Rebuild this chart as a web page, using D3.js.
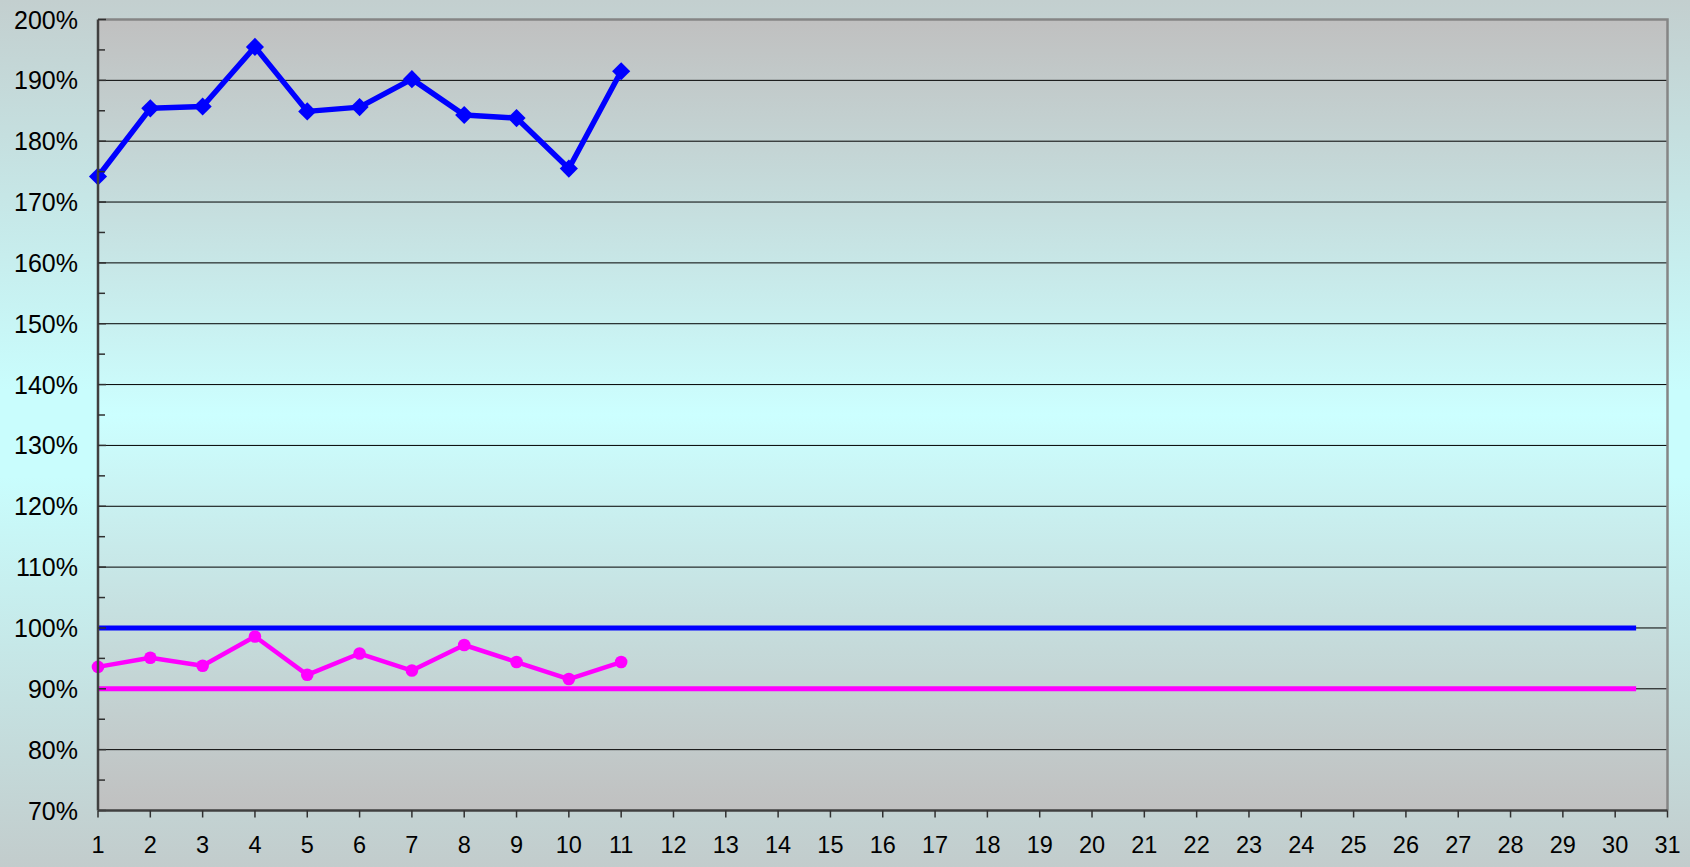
<!DOCTYPE html>
<html>
<head>
<meta charset="utf-8">
<script src="https://d3js.org/d3.v7.min.js"></script>
<style>
  body { margin: 0; padding: 0; overflow: hidden; }
  text { font-family: "Liberation Sans", Arial, sans-serif; fill: #000; }
</style>
</head>
<body>
<div id="chart"></div>
<script>
// chart values
var days = d3.range(1, 32);            // x categories 1..31
var rateDays = d3.range(1, 12);        // days that have data
var blueRate = [174.2, 185.4, 185.7, 195.5, 184.9, 185.6, 190.2, 184.3, 183.8, 175.5, 191.5];
var pinkRate = [93.6, 95.1, 93.8, 98.6, 92.3, 95.8, 93.0, 97.2, 94.4, 91.6, 94.4];
var blueTarget = 100;
var pinkTarget = 90;
var targetSpan = [1, 30.4];            // reference lines run across this x range
var yTicks = d3.range(70, 201, 10);

var svgWidth = 1690, svgHeight = 867;
var margin = { top: 19.5, right: 22.5, bottom: 56.5, left: 98 };
var width = svgWidth - margin.left - margin.right;
var height = svgHeight - margin.top - margin.bottom;

var svg = d3.select("#chart").append("svg")
  .attr("width", svgWidth)
  .attr("height", svgHeight);

var defs = svg.append("defs");

// page background gradient
var bg = defs.append("linearGradient").attr("id", "bgGrad")
  .attr("x1", 0).attr("y1", 0).attr("x2", 0).attr("y2", 1);
bg.append("stop").attr("offset", "0%").attr("stop-color", "#c3cfcf");
bg.append("stop").attr("offset", "45%").attr("stop-color", "#c9fdfd");
bg.append("stop").attr("offset", "55%").attr("stop-color", "#c9fdfd");
bg.append("stop").attr("offset", "100%").attr("stop-color", "#c2cccc");

// plot area gradient
var pg = defs.append("linearGradient").attr("id", "plotGrad")
  .attr("x1", 0).attr("y1", 0).attr("x2", 0).attr("y2", 1);
pg.append("stop").attr("offset", "0%").attr("stop-color", "#c0c0c0");
pg.append("stop").attr("offset", "50%").attr("stop-color", "#ccffff");
pg.append("stop").attr("offset", "100%").attr("stop-color", "#c0c0c0");

svg.append("rect")
  .attr("width", svgWidth).attr("height", svgHeight)
  .attr("fill", "url(#bgGrad)");

var g = svg.append("g")
  .attr("transform", `translate(${margin.left}, ${margin.top})`);

var x = d3.scaleLinear().domain([1, 31]).range([0, width]);
var y = d3.scaleLinear().domain([70, 200]).range([height, 0]);

// plot area
g.append("rect")
  .attr("width", width).attr("height", height)
  .attr("fill", "url(#plotGrad)");

// gridlines
g.append("g")
  .selectAll("line")
  .data(yTicks.filter(d => d > 70 && d < 200))
  .enter()
  .append("line")
  .attr("x1", 0).attr("x2", width)
  .attr("y1", d => y(d)).attr("y2", d => y(d))
  .attr("stroke", "#000")
  .attr("stroke-width", 1);

// top and right border
g.append("path")
  .attr("d", `M0,0H${width}V${height}`)
  .attr("fill", "none")
  .attr("stroke", "#858585")
  .attr("stroke-width", 2.5);

// target lines
var targets = [
  { value: blueTarget, color: "#0000ff" },
  { value: pinkTarget, color: "#ff00ff" }
];
g.append("g")
  .selectAll("line")
  .data(targets)
  .enter()
  .append("line")
  .attr("x1", x(targetSpan[0])).attr("x2", x(targetSpan[1]))
  .attr("y1", d => y(d.value)).attr("y2", d => y(d.value))
  .attr("stroke", d => d.color)
  .attr("stroke-width", 5);

var line = d3.line()
  .x((d, i) => x(rateDays[i]))
  .y(d => y(d));

// blue series
g.append("path")
  .datum(blueRate)
  .attr("d", line)
  .attr("fill", "none")
  .attr("stroke", "#0000ff")
  .attr("stroke-width", 5.5)
  .attr("stroke-linejoin", "round");

g.append("g")
  .selectAll("path")
  .data(blueRate)
  .enter()
  .append("path")
  .attr("d", d3.symbol().type(d3.symbolDiamond2).size(210))
  .attr("transform", (d, i) => `translate(${x(rateDays[i])},${y(d)})`)
  .attr("fill", "#0000ff");

// pink series
g.append("path")
  .datum(pinkRate)
  .attr("d", line)
  .attr("fill", "none")
  .attr("stroke", "#ff00ff")
  .attr("stroke-width", 4.5)
  .attr("stroke-linejoin", "round");

g.append("g")
  .selectAll("circle")
  .data(pinkRate)
  .enter()
  .append("circle")
  .attr("cx", (d, i) => x(rateDays[i]))
  .attr("cy", d => y(d))
  .attr("r", 6.3)
  .attr("fill", "#ff00ff");

// y axis
var yAxis = g.append("g");
yAxis.append("line")
  .attr("x1", 0).attr("x2", 0).attr("y1", 0).attr("y2", height)
  .attr("stroke", "#404040").attr("stroke-width", 2.5);
yAxis.selectAll(".major")
  .data(yTicks)
  .enter()
  .append("line")
  .attr("x1", 0).attr("x2", 8)
  .attr("y1", d => y(d)).attr("y2", d => y(d))
  .attr("stroke", "#303030").attr("stroke-width", 1.5);
yAxis.selectAll(".minor")
  .data(d3.range(75, 200, 10))
  .enter()
  .append("line")
  .attr("x1", 0).attr("x2", 7)
  .attr("y1", d => y(d)).attr("y2", d => y(d))
  .attr("stroke", "#303030").attr("stroke-width", 1.5);
yAxis.selectAll("text")
  .data(yTicks)
  .enter()
  .append("text")
  .attr("x", -20)
  .attr("y", d => y(d))
  .attr("dy", "0.36em")
  .attr("text-anchor", "end")
  .style("font-size", "25px")
  .text(d => d + "%");

// x axis
var xAxis = g.append("g").attr("transform", `translate(0, ${height})`);
xAxis.append("line")
  .attr("x1", 0).attr("x2", width)
  .attr("stroke", "#404040").attr("stroke-width", 2.5);
xAxis.selectAll("line.tick")
  .data(days)
  .enter()
  .append("line")
  .attr("class", "tick")
  .attr("x1", d => x(d)).attr("x2", d => x(d))
  .attr("y1", 0).attr("y2", 7)
  .attr("stroke", "#303030").attr("stroke-width", 1.5);
xAxis.selectAll("text")
  .data(days)
  .enter()
  .append("text")
  .attr("x", d => x(d))
  .attr("y", 42.5)
  .attr("text-anchor", "middle")
  .style("font-size", "23.5px")
  .text(d => d);
</script>
</body>
</html>
